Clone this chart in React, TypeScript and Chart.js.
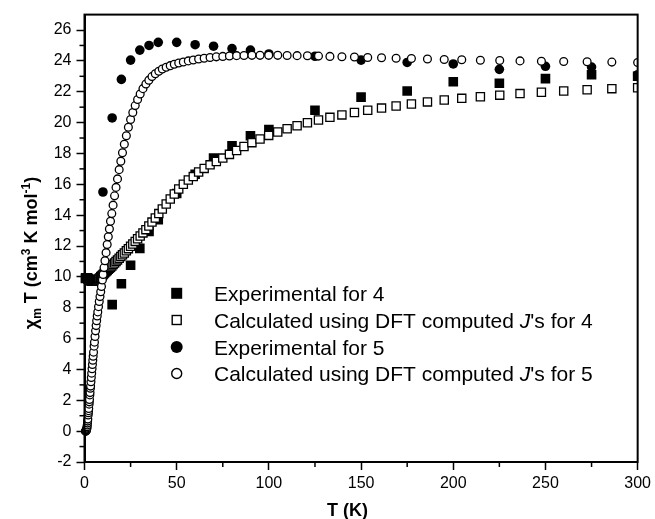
import React, { useEffect, useRef } from 'react';
import { Chart, registerables } from 'chart.js';

Chart.register(...registerables);

// Calculated curves (temperature grid and values)
const calcT = [
  0.5, 0.6, 0.7, 0.8, 0.9, 1.0, 1.1, 1.2, 1.3, 1.4,
  1.5, 1.6, 1.7, 1.8, 2.0, 2.1, 2.2, 2.3, 2.5, 2.6,
  2.7, 2.9, 3.0, 3.2, 3.3, 3.5, 3.7, 3.9, 4.1, 4.3,
  4.5, 4.7, 4.9, 5.2, 5.4, 5.7, 6.0, 6.3, 6.6, 6.9,
  7.2, 7.6, 8.0, 8.4, 8.8, 9.2, 9.7, 10.1, 10.6, 11.1,
  11.7, 12.3, 12.9, 13.5, 14.1, 14.8, 15.5, 16.3, 17.1, 17.9,
  18.8, 19.7, 20.6, 21.6, 22.7, 23.8, 25.0, 26.2, 27.5, 28.8,
  30.2, 31.7, 33.3, 34.9, 36.6, 38.4, 40.3, 42.2, 44.3, 46.5,
  48.7, 51.1, 53.6, 56.3, 59.0, 61.9, 64.9, 68.1, 71.5, 75.0,
  78.6, 82.5, 86.5, 90.8, 95.2, 99.9, 104.8, 109.9, 115.3, 120.9,
  126.9, 133.1, 139.6, 146.4, 153.6, 161.1, 169.0, 177.3, 186.0, 195.1,
  204.6, 214.7, 225.2, 236.2, 247.8, 259.9, 272.6, 286.0, 300.0,
];

const calc4 = [
  9.9, 9.92, 9.93, 9.94, 9.95, 9.95, 9.95, 9.95, 9.94, 9.94,
  9.93, 9.92, 9.91, 9.9, 9.88, 9.87, 9.86, 9.85, 9.83, 9.82,
  9.81, 9.79, 9.78, 9.77, 9.76, 9.75, 9.74, 9.73, 9.72, 9.72,
  9.71, 9.71, 9.71, 9.71, 9.71, 9.72, 9.73, 9.75, 9.77, 9.79,
  9.82, 9.86, 9.9, 9.95, 10.0, 10.05, 10.11, 10.16, 10.22, 10.28,
  10.35, 10.42, 10.49, 10.56, 10.63, 10.71, 10.8, 10.9, 11.0, 11.1,
  11.21, 11.32, 11.43, 11.55, 11.69, 11.83, 11.98, 12.13, 12.3, 12.47,
  12.65, 12.85, 13.06, 13.3, 13.55, 13.82, 14.1, 14.4, 14.72, 15.05,
  15.37, 15.7, 16.0, 16.28, 16.5, 16.8, 17.03, 17.26, 17.48, 17.7,
  17.94, 18.19, 18.45, 18.7, 18.94, 19.17, 19.39, 19.6, 19.8, 19.99,
  20.17, 20.34, 20.5, 20.65, 20.8, 20.94, 21.08, 21.21, 21.34, 21.46,
  21.57, 21.68, 21.78, 21.88, 21.97, 22.05, 22.13, 22.2, 22.26,
];

const calc5 = [
  0.0, 0.0, 0.01, 0.02, 0.03, 0.05, 0.09, 0.14, 0.2, 0.29,
  0.4, 0.52, 0.65, 0.78, 1.05, 1.19, 1.33, 1.47, 1.75, 1.9,
  2.05, 2.35, 2.5, 2.78, 2.92, 3.2, 3.48, 3.76, 4.04, 4.32,
  4.6, 4.86, 5.12, 5.51, 5.77, 6.14, 6.5, 6.84, 7.16, 7.46,
  7.73, 8.07, 8.4, 8.72, 9.04, 9.38, 9.8, 10.15, 10.6, 11.05,
  11.57, 12.1, 12.6, 13.1, 13.6, 14.1, 14.65, 15.25, 15.8, 16.35,
  16.95, 17.5, 18.05, 18.6, 19.15, 19.7, 20.2, 20.65, 21.1, 21.5,
  21.85, 22.2, 22.5, 22.75, 22.98, 23.17, 23.33, 23.47, 23.59, 23.69,
  23.78, 23.86, 23.93, 24.0, 24.06, 24.12, 24.17, 24.22, 24.26, 24.29,
  24.32, 24.34, 24.35, 24.36, 24.36, 24.36, 24.36, 24.35, 24.34, 24.33,
  24.31, 24.29, 24.27, 24.25, 24.22, 24.2, 24.17, 24.15, 24.12, 24.09,
  24.07, 24.04, 24.02, 24.0, 23.98, 23.96, 23.94, 23.92, 23.9,
];

// Experimental data
const exp4T = [15, 20, 25, 30, 35, 40, 50, 60, 70, 80, 90, 100, 125, 150, 175, 200, 225, 250, 275, 300];
const exp4Y = [8.2, 9.55, 10.75, 11.85, 12.95, 13.7, 15.4, 16.65, 17.7, 18.5, 19.15, 19.55, 20.8, 21.65, 22.05, 22.65, 22.55, 22.85, 23.1, 23.0];
const exp5T = [10, 15, 20, 25, 30, 35, 40, 50, 60, 70, 80, 90, 100, 125, 150, 175, 200, 225, 250, 275, 300];
const exp5Y = [15.5, 20.3, 22.8, 24.05, 24.7, 25.0, 25.2, 25.2, 25.05, 24.95, 24.8, 24.7, 24.45, 24.3, 24.05, 23.9, 23.8, 23.45, 23.65, 23.6, 23.1];

// Axes
const xTickValues = [0, 50, 100, 150, 200, 250, 300];
const xMinorValues = [25, 75, 125, 175, 225, 275];
const yTickValues = [-2, 0, 2, 4, 6, 8, 10, 12, 14, 16, 18, 20, 22, 24, 26];
const yMinorValues = [-1, 1, 3, 5, 7, 9, 11, 13, 15, 17, 19, 21, 23, 25];

const legendLabels = [
  'Experimental for 4',
  'Calculated using DFT computed |J|\'s for 4',
  'Experimental for 5',
  'Calculated using DFT computed |J|\'s for 5',
];

const FONT = '"Liberation Sans", Arial, sans-serif';

const toPts = (xs: number[], ys: number[]) => xs.map((x, i) => ({ x, y: ys[i] }));

function drawMarker(ctx: CanvasRenderingContext2D, kind: number, cx: number, cy: number) {
  ctx.save();
  ctx.fillStyle = '#000';
  ctx.strokeStyle = '#000';
  ctx.lineWidth = 1.4;
  if (kind === 0) {
    ctx.fillRect(cx - 5.5, cy - 5.5, 11, 11);
  } else if (kind === 1) {
    ctx.fillStyle = '#fff';
    ctx.fillRect(cx - 4.5, cy - 4.5, 9, 9);
    ctx.strokeRect(cx - 4.5, cy - 4.5, 9, 9);
  } else if (kind === 2) {
    ctx.beginPath();
    ctx.arc(cx, cy, 6, 0, Math.PI * 2);
    ctx.fill();
  } else {
    ctx.fillStyle = '#fff';
    ctx.beginPath();
    ctx.arc(cx, cy, 5, 0, Math.PI * 2);
    ctx.fill();
    ctx.stroke();
  }
  ctx.restore();
}

function drawRich(ctx: CanvasRenderingContext2D, parts: { t: string; f: string; dy?: number }[], x: number, y: number, align: 'left' | 'center') {
  let w = 0;
  parts.forEach((p) => { ctx.font = p.f; w += ctx.measureText(p.t).width; });
  let cx = align === 'center' ? x - w / 2 : x;
  parts.forEach((p) => {
    ctx.font = p.f;
    ctx.fillText(p.t, cx, y + (p.dy || 0));
    cx += ctx.measureText(p.t).width;
  });
}

const decorPlugin = {
  id: 'decor',
  afterDraw(chart: any) {
    const { ctx, chartArea: a, scales } = chart;
    const x = scales.x;
    const y = scales.y;
    ctx.save();
    ctx.strokeStyle = '#000';
    ctx.fillStyle = '#000';
    ctx.lineWidth = 2;
    ctx.strokeRect(a.left, a.top, a.right - a.left, a.bottom - a.top);

    ctx.lineWidth = 1.5;
    xMinorValues.forEach((v) => {
      const px = x.getPixelForValue(v);
      ctx.beginPath();
      ctx.moveTo(px, a.bottom);
      ctx.lineTo(px, a.bottom + 5);
      ctx.stroke();
    });
    yMinorValues.forEach((v) => {
      const py = y.getPixelForValue(v);
      ctx.beginPath();
      ctx.moveTo(a.left, py);
      ctx.lineTo(a.left - 5, py);
      ctx.stroke();
    });

    // Legend
    const lx = 176.7;
    const tx = 214;
    const rows = [293.3, 320, 347, 373.5];
    ctx.textBaseline = 'alphabetic';
    ctx.textAlign = 'left';
    legendLabels.forEach((label, i) => {
      drawMarker(ctx, i, lx, rows[i]);
      const segs = label.split('|');
      const parts = segs.map((s, k) => ({ t: s, f: (k === 1 ? 'italic ' : '') + '21px ' + FONT }));
      drawRich(ctx, parts, tx, rows[i] + 7.5, 'left');
    });

    // X title
    drawRich(ctx, [{ t: 'T (K)', f: 'bold 18px ' + FONT }], 347.5, 516, 'center');

    // Y title
    ctx.translate(37, 253);
    ctx.rotate(-Math.PI / 2);
    const B = 'bold 18px ' + FONT;
    const S = 'bold 12px ' + FONT;
    drawRich(ctx, [
      { t: 'χ', f: B },
      { t: 'm', f: S, dy: 4 },
      { t: ' T (cm', f: B },
      { t: '3', f: S, dy: -7 },
      { t: ' K mol', f: B },
      { t: '-1', f: S, dy: -7 },
      { t: ')', f: B },
    ], 0, 0, 'center');
    ctx.restore();
  },
};

export default function App() {
  const ref = useRef<HTMLCanvasElement | null>(null);

  useEffect(() => {
    if (!ref.current) return;
    const clip = { left: false, top: 0, right: 0, bottom: 0 } as any;
    const chart = new Chart(ref.current, {
      type: 'scatter',
      data: {
        datasets: [
          {
            label: 'Experimental for 4',
            data: toPts(exp4T, exp4Y),
            pointStyle: 'rect',
            pointRadius: 6.8,
            pointHoverRadius: 6.8,
            pointBorderWidth: 0,
            backgroundColor: '#000',
            borderColor: '#000',
            order: 4,
            clip,
          },
          {
            label: "Calculated using DFT computed J's for 4",
            data: toPts(calcT, calc4),
            pointStyle: 'rect',
            pointRadius: 5.8,
            pointHoverRadius: 5.8,
            pointBorderWidth: 1.3,
            backgroundColor: '#fff',
            borderColor: '#000',
            order: 3,
            clip,
          },
          {
            label: 'Experimental for 5',
            data: toPts(exp5T, exp5Y),
            pointStyle: 'circle',
            pointRadius: 4.8,
            pointHoverRadius: 4.8,
            pointBorderWidth: 0,
            backgroundColor: '#000',
            borderColor: '#000',
            order: 2,
            clip,
          },
          {
            label: "Calculated using DFT computed J's for 5",
            data: toPts(calcT, calc5),
            pointStyle: 'circle',
            pointRadius: 3.9,
            pointHoverRadius: 3.9,
            pointBorderWidth: 1.3,
            backgroundColor: '#fff',
            borderColor: '#000',
            order: 1,
            clip,
          },
        ],
      },
      options: {
        animation: false,
        responsive: false,
        events: [],
        layout: { padding: { left: 0, right: 16, top: 12, bottom: 0 } },
        plugins: {
          legend: { display: false },
          tooltip: { enabled: false },
          title: { display: false },
        },
        scales: {
          x: {
            type: 'linear',
            min: 0,
            max: 300,
            afterFit: (s: any) => { s.height = 57; },
            afterBuildTicks: (s: any) => { s.ticks = xTickValues.map((v) => ({ value: v })); },
            grid: {
              display: true,
              drawOnChartArea: false,
              drawTicks: true,
              tickLength: 8,
              tickWidth: 1.5,
              tickColor: '#000',
            },
            border: { display: true, color: '#000', width: 2 },
            ticks: {
              color: '#000',
              font: { family: FONT, size: 16 },
              padding: 4,
              maxRotation: 0,
              autoSkip: false,
              includeBounds: false,
            },
          },
          y: {
            type: 'linear',
            min: -2,
            max: 27,
            afterFit: (s: any) => { s.width = 84.5; },
            afterBuildTicks: (s: any) => { s.ticks = yTickValues.map((v) => ({ value: v })); },
            grid: {
              display: true,
              drawOnChartArea: false,
              drawTicks: true,
              tickLength: 8,
              tickWidth: 1.5,
              tickColor: '#000',
            },
            border: { display: true, color: '#000', width: 2 },
            ticks: {
              color: '#000',
              font: { family: FONT, size: 16 },
              padding: 5,
              autoSkip: false,
              includeBounds: false,
            },
          },
        },
      },
      plugins: [decorPlugin],
    } as any);
    return () => chart.destroy();
  }, []);

  return (
    <div style={{ position: 'fixed', left: 0, top: 0, width: 655, height: 519, background: '#fff' }}>
      <canvas ref={ref} width={655} height={519} style={{ width: 655, height: 519, display: 'block' }} />
    </div>
  );
}
